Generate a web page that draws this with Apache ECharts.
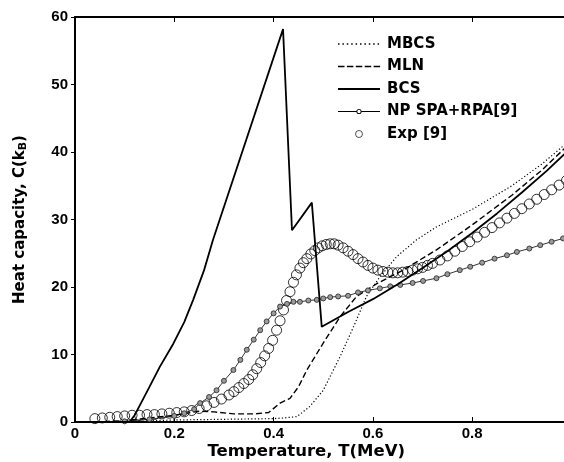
<!DOCTYPE html>
<html>
<head>
<meta charset="utf-8">
<script src="https://cdn.jsdelivr.net/npm/echarts@6/dist/echarts.min.js"></script>
<style>
html,body{margin:0;padding:0;background:#fff;}
#chart{width:564px;height:462px;}
</style>
</head>
<body>
<div id="chart"></div>
<script>
// Temperature (MeV) / heat capacity (k_B) samples
var bcsT = [0.04,0.11,0.12,0.13,0.15,0.171,0.198,0.22,0.238,0.26,0.278,0.419,0.437,0.477,0.497,0.55,0.6,0.65,0.7,0.75,0.8,0.85,0.9,0.95,0.99];
var bcsC = [0,0,1.0,2.4,5.2,8.2,11.6,14.8,18.1,22.5,27,58.2,28.4,32.5,14.1,16.3,18.2,20.4,22.8,25.3,28,30.9,34,37.2,40];

var mbcsT = [0.04,0.1,0.2,0.3,0.4,0.42,0.447,0.473,0.5,0.534,0.561,0.587,0.614,0.648,0.688,0.728,0.8,0.88,0.94,0.99];
var mbcsC = [0,0.05,0.3,0.4,0.5,0.6,0.8,2.3,4.7,9.7,14.1,18.6,21.5,24.5,27,28.9,31.5,35,38.2,41.3];

var mlnT = [0.04,0.1,0.15,0.2,0.25,0.28,0.32,0.36,0.39,0.413,0.433,0.45,0.467,0.5,0.534,0.567,0.608,0.661,0.728,0.8,0.88,0.94,0.99];
var mlnC = [0,0.2,0.6,1.0,1.6,1.5,1.2,1.2,1.4,2.8,3.5,5.2,7.7,11.7,15.6,18.6,20.5,22.5,25.5,29.2,33.6,37.3,40.8];

var npT = [0.1,0.15,0.2,0.22,0.24,0.252,0.27,0.285,0.3,0.319,0.333,0.346,0.36,0.373,0.386,0.4,0.413,0.427,0.44,0.453,0.47,0.487,0.5,0.514,0.53,0.55,0.57,0.59,0.614,0.635,0.655,0.68,0.701,0.728,0.75,0.775,0.796,0.82,0.845,0.87,0.89,0.915,0.937,0.96,0.983];
var npC = [0.1,0.4,0.9,1.3,1.9,2.8,3.7,4.7,6.1,7.7,9.2,10.7,12.2,13.6,14.9,16.1,17.1,17.5,17.8,17.8,18.0,18.1,18.3,18.5,18.6,18.7,19.2,19.5,19.8,20.1,20.3,20.6,20.9,21.3,21.9,22.5,23.0,23.6,24.2,24.7,25.2,25.7,26.2,26.7,27.2];

var expT = [0.04,0.055,0.07,0.085,0.1,0.115,0.13,0.145,0.16,0.175,0.19,0.205,0.22,0.235,0.25,0.265,0.28,0.295,0.31,0.32,0.33,0.34,0.35,0.358,0.366,0.374,0.382,0.39,0.398,0.406,0.413,0.42,0.426,0.433,0.44,0.446,0.453,0.46,0.467,0.475,0.483,0.49,0.498,0.506,0.514,0.522,0.53,0.54,0.55,0.56,0.57,0.58,0.59,0.6,0.61,0.62,0.63,0.64,0.65,0.66,0.67,0.68,0.69,0.7,0.71,0.72,0.735,0.75,0.765,0.78,0.795,0.81,0.825,0.84,0.855,0.87,0.885,0.9,0.915,0.93,0.945,0.96,0.975,0.99];
var expC = [0.5,0.6,0.7,0.8,0.9,1.0,1.0,1.1,1.1,1.2,1.3,1.4,1.5,1.7,2.0,2.4,2.9,3.4,4.0,4.5,5.1,5.7,6.3,7.0,7.9,8.8,9.8,10.9,12.1,13.6,15.0,16.6,18.0,19.3,20.7,21.8,22.8,23.6,24.2,24.9,25.4,25.8,26.1,26.3,26.4,26.4,26.2,25.8,25.3,24.8,24.2,23.7,23.2,22.8,22.5,22.3,22.2,22.1,22.1,22.2,22.3,22.5,22.7,22.9,23.2,23.5,24.0,24.6,25.3,26.0,26.7,27.4,28.1,28.8,29.5,30.2,30.9,31.6,32.3,33.0,33.7,34.4,35.1,35.8];

var seriesNames = ['MBCS','MLN','BCS','NP SPA+RPA[9]','Exp [9]'];
var xTicks = [0,0.2,0.4,0.6,0.8];
var yTicks = [0,10,20,30,40,50,60];

function pairs(t, c){ return t.map(function(v,i){ return [v, c[i]]; }); }

// legend icon shapes (44x14 box)
var BOX = 'M0,0 M44,14 ';
function rect(x, y, w, h){ return 'M'+x+','+y+' h'+w+' v'+h+' h'+(-w)+' Z '; }
function ring(cx, cy, ro, ri){
  return 'M'+(cx+ro)+','+cy+' A'+ro+','+ro+' 0 1,0 '+(cx-ro)+','+cy+' A'+ro+','+ro+' 0 1,0 '+(cx+ro)+','+cy+' Z '+
         'M'+(cx+ri)+','+cy+' A'+ri+','+ri+' 0 1,1 '+(cx-ri)+','+cy+' A'+ri+','+ri+' 0 1,1 '+(cx+ri)+','+cy+' Z ';
}
var iconDotted = BOX; for (var d = 0; d < 10; d++) iconDotted += rect(d*4.4, 6.3, 1.5, 1.5);
var iconDashed = BOX; for (var e = 0; e < 5; e++) iconDashed += rect(e*8.9, 6.2, 6.5, 1.6);
var iconSolid = BOX + rect(0, 6, 42, 2);
var iconNP = BOX + rect(0, 6.5, 18.4, 1) + rect(23.6, 6.5, 18.4, 1) + ring(21, 7, 2.6, 1.7);
var iconExp = BOX + ring(21, 7, 3.7, 2.9);
var legendIcons = [iconDotted, iconDashed, iconSolid, iconNP, iconExp];

var FONT = 'Liberation Sans';
var TITLEFONT = 'DejaVu Sans';

var chart = echarts.init(document.getElementById('chart'), null, {renderer:'canvas'});
chart.setOption({
  animation:false,
  backgroundColor:'#fff',
  textStyle:{fontFamily:FONT},
  grid:{left:75, right:-7.5, top:17, bottom:40, containLabel:false, outerBoundsMode:'none'},
  legend:{
    data:seriesNames.map(function(n,i){ return {name:n, icon:'path://'+legendIcons[i], itemStyle:{color:'#000', borderWidth:0}}; }),
    orient:'vertical', left:333, top:31.5, itemWidth:44, itemHeight:14, itemGap:7.5,
    textStyle:{fontFamily:TITLEFONT, fontWeight:'bold', fontSize:15, color:'#000'}
  },
  xAxis:[{
    type:'value', min:0, max:1, interval:0.2, position:'bottom',
    axisLine:{show:true, onZero:false, lineStyle:{color:'#000', width:2}},
    axisTick:{show:true, inside:true, length:5, lineStyle:{color:'#000', width:1}},
    splitLine:{show:false},
    axisLabel:{color:'#000', fontFamily:FONT, fontWeight:'bold', fontSize:15, margin:4,
      formatter:function(v){ return xTicks.indexOf(Math.round(v*10)/10) >= 0 ? String(Math.round(v*10)/10) : ''; }},
    name:'Temperature, T(MeV)', nameLocation:'middle', nameGap:21, nameMoveOverlap:false,
    nameTextStyle:{color:'#000', fontFamily:TITLEFONT, fontWeight:'bold', fontSize:16.5, padding:[0,34,0,0]}
  },{
    type:'value', min:0, max:1, interval:0.2, position:'top',
    axisLine:{show:true, onZero:false, lineStyle:{color:'#000', width:2}},
    axisTick:{show:true, inside:true, length:5, lineStyle:{color:'#000', width:1}},
    axisLabel:{show:false}, splitLine:{show:false}
  }],
  yAxis:{
    type:'value', min:0, max:60, interval:10,
    axisLine:{show:true, onZero:false, lineStyle:{color:'#000', width:2}},
    axisTick:{show:true, inside:false, length:4, lineStyle:{color:'#000', width:1}},
    splitLine:{show:false},
    axisLabel:{color:'#000', fontFamily:FONT, fontWeight:'bold', fontSize:15, margin:7,
      formatter:function(v){ return yTicks.indexOf(v) >= 0 ? String(v) : ''; }},
    name:'Heat capacity, C(k{sub|B})', nameLocation:'middle', nameGap:46, nameRotate:90, nameMoveOverlap:false,
    nameTextStyle:{color:'#000', fontFamily:TITLEFONT, fontWeight:'bold', fontSize:15,
      rich:{sub:{fontFamily:TITLEFONT, fontWeight:'bold', fontSize:11, color:'#000', verticalAlign:'bottom', padding:[7,0,0,0]}}}
  },
  series:[{
    name:seriesNames[0], type:'line', data:pairs(mbcsT,mbcsC), symbol:'none',
    lineStyle:{color:'#000', width:1.2, type:[1.2,2.2]}, itemStyle:{color:'#000'}, z:3
  },{
    name:seriesNames[1], type:'line', data:pairs(mlnT,mlnC), symbol:'none',
    lineStyle:{color:'#000', width:1.4, type:[6,3]}, itemStyle:{color:'#000'}, z:3
  },{
    name:seriesNames[2], type:'line', data:pairs(bcsT,bcsC), symbol:'none',
    lineStyle:{color:'#000', width:1.8, type:'solid'}, itemStyle:{color:'#000'}, z:4
  },{
    name:seriesNames[3], type:'line', data:pairs(npT,npC), symbol:'circle', symbolSize:5, showAllSymbol:true,
    lineStyle:{color:'#000', width:0.8}, itemStyle:{color:'#9a9a9a', borderColor:'#222', borderWidth:0.8}, z:3
  },{
    name:seriesNames[4], type:'scatter', data:pairs(expT,expC), symbol:'circle', symbolSize:10,
    itemStyle:{color:'rgba(255,255,255,0)', borderColor:'#000', borderWidth:1}, z:2
  }]
});
</script>
</body>
</html>
